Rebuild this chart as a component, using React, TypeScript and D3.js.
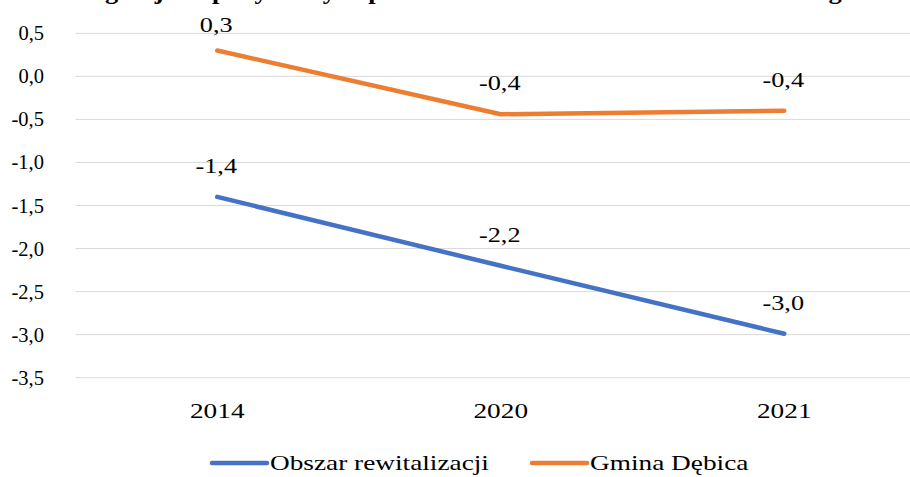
import React from "react";
import * as d3 from "d3";

const years = ["2014", "2020", "2021"];
const obszar = [-1.4, -2.2, -2.99];
const gmina = [0.3, -0.44, -0.4];
const yTicks = [0.5, 0.0, -0.5, -1.0, -1.5, -2.0, -2.5, -3.0, -3.5];
const seriesNames = ["Obszar rewitalizacji", "Gmina Dębica"];
const colors = ["#4472C4", "#ED7D31"];
const title =
  "Saldo migracji na pobyt stały w przeliczeniu na 1000 mieszkańców według obszaru i gminy Dębica";

const width = 910;
const height = 477;
const font = '"Liberation Serif", "Times New Roman", serif';

const fmt = (v: number) => d3.format(".1f")(v).replace(".", ",").replace("−", "-");

// stretched label, like the reference (text is wider than it is tall)
const Label = ({ x, y, sx, anchor, size, children }: any) => (
  <text
    transform={`translate(${x},${y}) scale(${sx},1)`}
    textAnchor={anchor}
    fontSize={size}
    fill="#000"
  >
    {children}
  </text>
);

const App = () => {
  const x = d3.scalePoint<string>().domain(years).range([75.5, 926]).padding(0.5);
  const y = d3.scaleLinear().domain([-3.5, 0.5]).range([377.7, 33.3]);

  const line = d3
    .line<number>()
    .x((_, i) => x(years[i]) as number)
    .y((d) => y(d));

  const series = [obszar, gmina];

  return (
    <svg
      width={width}
      height={height}
      fontFamily={font}
      style={{ position: "absolute", left: 0, top: 0, background: "#fff" }}
    >
      <rect width={width} height={height} fill="#fff" />
      <Label x={6} y={-1} sx={1.1} anchor="start" size={24}>
        <tspan fontWeight="bold">{title}</tspan>
      </Label>

      {yTicks.map((t) => (
        <g key={t}>
          <line x1={75.5} x2={width} y1={y(t)} y2={y(t)} stroke="#d9d9d9" strokeWidth={1} />
          <text x={44} y={y(t) + 7} textAnchor="end" fontSize={20.5} fill="#000">
            {fmt(t)}
          </text>
        </g>
      ))}

      {years.map((c) => (
        <Label key={c} x={x(c)} y={418} sx={1.3} anchor="middle" size={21}>
          {c}
        </Label>
      ))}

      {series.map((s, si) => (
        <path
          key={si}
          d={line(s) || ""}
          fill="none"
          stroke={colors[si]}
          strokeWidth={4.5}
          strokeLinecap="round"
          strokeLinejoin="round"
        />
      ))}

      {series.map((s, si) =>
        s.map((v, i) => (
          <Label
            key={si + "-" + i}
            x={(x(years[i]) as number) - 1}
            y={Math.max(y(v) - 24, 32)}
            sx={1.25}
            anchor="middle"
            size={21}
          >
            {fmt(v)}
          </Label>
        ))
      )}

      <g>
        <line x1={212} x2={267} y1={463} y2={463} stroke={colors[0]} strokeWidth={4.5} strokeLinecap="round" />
        <Label x={270} y={470} sx={1.3} anchor="start" size={21}>
          {seriesNames[0]}
        </Label>
        <line x1={532} x2={587} y1={463} y2={463} stroke={colors[1]} strokeWidth={4.5} strokeLinecap="round" />
        <Label x={590} y={470} sx={1.3} anchor="start" size={21}>
          {seriesNames[1]}
        </Label>
      </g>
    </svg>
  );
};

export default App;
